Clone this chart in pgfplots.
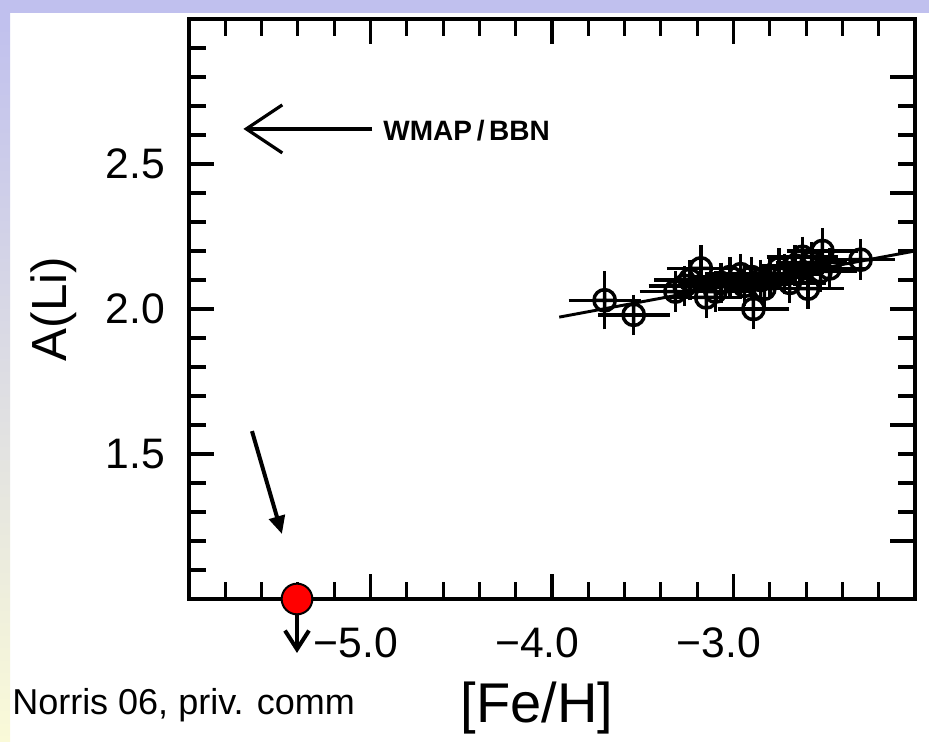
\documentclass[border=0pt]{standalone}
\usepackage{fontspec}
\setmainfont{Liberation Sans}
\usepackage{pgfplots}
\usepackage{pgfplotstable}
\pgfplotsset{compat=1.18}
\usetikzlibrary{arrows.meta}
\definecolor{bandblue}{RGB}{192,192,238}
\definecolor{stripyellow}{RGB}{250,250,216}

\pgfplotstableread{
feh ali ex ey
-3.71 2.03 0.15 0.07
-3.55 1.98 0.15 0.04
-3.18 2.14 0.14 0.05
-2.89 2.00 0.15 0.04
-2.51 2.20 0.15 0.05
-2.30 2.17 0.14 0.04
-2.59 2.07 0.15 0.04
-3.15 2.04 0.15 0.04
-2.83 2.07 0.15 0.04
-3.27 2.08 0.15 0.04
-3.32 2.06 0.15 0.04
-3.24 2.10 0.15 0.04
-3.07 2.09 0.15 0.04
-3.02 2.11 0.15 0.04
-2.96 2.12 0.15 0.04
-2.90 2.11 0.15 0.04
-2.85 2.10 0.15 0.04
-2.80 2.11 0.15 0.04
-2.75 2.14 0.15 0.04
-2.72 2.12 0.15 0.04
-2.66 2.15 0.15 0.04
-2.62 2.18 0.15 0.04
-2.57 2.16 0.15 0.04
-2.52 2.13 0.15 0.04
-2.47 2.14 0.15 0.04
-3.10 2.06 0.15 0.04
-2.94 2.08 0.15 0.04
-2.69 2.09 0.15 0.04
}\stars

\begin{document}
\begin{tikzpicture}[x=0.75pt,y=0.75pt]
\fill[white] (0,0) rectangle (929,742);
\fill[bandblue] (0,729) rectangle (929,742);
\shade[top color=bandblue, bottom color=stripyellow] (0,0) rectangle (10,729);

% right-hand ticks
\begin{axis}[
  at={(141.75pt,107.25pt)}, anchor=south west,
  scale only axis, width=544.5pt, height=435pt,
  xmin=-6, xmax=-2, ymin=1, ymax=3,
  hide x axis,
  axis y line*=right,
  tick align=inside,
  ytick={1.2,1.6,2.0,2.4,2.8}, yticklabels={},
  minor y tick num=3,
  major tick length=18.75pt, minor tick length=12.75pt,
  axis line style={line width=2.3pt},
  major tick style={line width=2.3pt, black},
  minor tick style={line width=2.3pt, black},
]
\end{axis}

\begin{axis}[
  at={(141.75pt,107.25pt)}, anchor=south west,
  scale only axis, width=544.5pt, height=435pt,
  xmin=-6, xmax=-2, ymin=1, ymax=3,
  clip=false,
  axis line style={line width=2.3pt},
  tick align=inside,
  major tick length=18.75pt, minor tick length=12.75pt,
  major tick style={line width=2.3pt, black},
  minor tick style={line width=2.3pt, black},
  xtick={-6,-5,-4,-3,-2}, xticklabels={,−5.0,−4.0,−3.0,},
  minor x tick num=4,
  ytick={1,1.5,2,2.5,3}, yticklabels={,1.5,2.0,2.5,},
  minor y tick num=4,
  ytick pos=left,
  xticklabel style={font=\fontsize{32}{38}\selectfont, inner sep=0pt, anchor=north, yshift=-21pt, xshift=-11pt},
  yticklabel style={font=\fontsize{32}{38}\selectfont, inner sep=0pt, anchor=east, xshift=-18pt},
  xlabel={[Fe/H]},
  ylabel={A(Li)},
  xlabel style={font=\fontsize{42}{50}\selectfont, at={(axis description cs:0.479,-0.188)}, anchor=center},
  ylabel style={font=\fontsize{37}{44}\selectfont, at={(axis description cs:-0.187,0.5)}, anchor=center},
]
% trend line
\addplot[black, line width=2.2pt] coordinates {(-3.96,1.972) (-2.0,2.20)};

% stars with error bars
\addplot[only marks, mark=oplus, mark size=8pt,
  mark options={line width=2.6pt, draw=black, fill=white},
  error bars/.cd, x dir=both, x explicit, y dir=both, y explicit,
  error bar style={line width=2.6pt, black},
  error mark options={line width=2.6pt, mark size=6.5pt, black}]
  table[x=feh, y=ali, x error=ex, y error=ey] {\stars};

% upper limit arrow for HE1327-2326
\addplot[black, line width=3pt, quiver={u=0, v=-0.186},
  -{Straight Barb[length=14pt, width=18pt]}] coordinates {(-5.405,1.0)};
\addplot[only marks, mark=*, mark size=11.5pt,
  mark options={fill=red, draw=black, line width=1.5pt}] coordinates {(-5.405,1.0)};

% pointer arrow
\addplot[black, line width=3pt, -{Triangle[length=13.5pt, width=12pt]}]
  coordinates {(-5.653,1.579) (-5.488,1.224)};

% WMAP/BBN arrow
\addplot[black, line width=2.4pt, -{Straight Barb[length=27pt, width=36pt, line width=2.4pt]}]
  coordinates {(-4.99,2.621) (-5.70,2.621)};
\node[anchor=west, inner sep=0pt, font=\bfseries\fontsize{21}{24}\selectfont]
  at (axis cs:-4.93,2.614) {WMAP\hspace{3.5pt}/\hspace{3.5pt}BBN};
\end{axis}

\node[anchor=base west, inner sep=0pt, font=\fontsize{27}{32}\selectfont] at (12,27) {Norris 06, priv. comm};

\pgfresetboundingbox
\useasboundingbox (0,0) rectangle (929,742);
\end{tikzpicture}
\end{document}
